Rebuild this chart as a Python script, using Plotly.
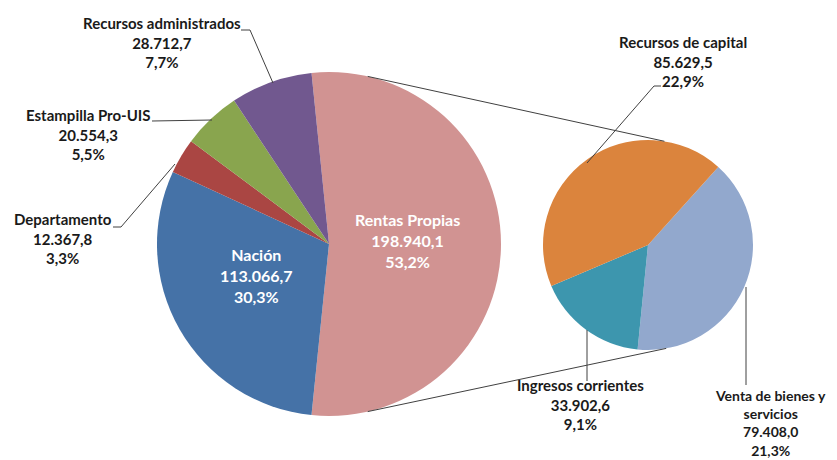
import math
import plotly.graph_objects as go

# Datos (millones de pesos)
fuentes = ["Rentas Propias", "Nación", "Departamento", "Estampilla Pro-UIS", "Recursos administrados"]
valores = [198940.1, 113066.7, 12367.8, 20554.3, 28712.7]
colores = ["#D19392", "#4572A7", "#AA4643", "#89A54E", "#71588F"]

rentas = ["Venta de bienes y servicios", "Ingresos corrientes", "Recursos de capital"]
valores_rentas = [79408.0, 33902.6, 85629.5]
colores_rentas = ["#92A8CD", "#3D96AE", "#DB843D"]

# la página deja 8 px de margen; la figura se ajusta a ese desplazamiento
OFF = 8
W, H = 837 - OFF, 460 - OFF
total = sum(valores)


def fmt_num(v):
    s = f"{v:,.1f}"
    return s.replace(",", "X").replace(".", ",").replace("X", ".")


def fmt_pct(v):
    return f"{100 * v / total:.1f}".replace(".", ",") + "%"


def px(x):
    return (x - OFF) / W


def py(y):
    return 1 - (y - OFF) / H


# geometría de las tortas (píxeles de pantalla)
c1, r1 = (329, 244), 172
c2, r2 = (648, 245), 105

inicio = 90 - 180 * valores[0] / total  # Rentas Propias centrada a la derecha

fig = go.Figure()
fig.add_trace(go.Pie(
    labels=fuentes, values=valores, sort=False, direction="clockwise",
    rotation=inicio, marker=dict(colors=colores), textinfo="none",
    hoverinfo="label+value+percent",
    domain=dict(x=[px(c1[0] - r1), px(c1[0] + r1)], y=[py(c1[1] + r1), py(c1[1] - r1)])
))
fig.add_trace(go.Pie(
    labels=rentas, values=valores_rentas, sort=False, direction="clockwise",
    rotation=42, marker=dict(colors=colores_rentas), textinfo="none",
    hoverinfo="label+value",
    domain=dict(x=[px(c2[0] - r2), px(c2[0] + r2)], y=[py(c2[1] + r2), py(c2[1] - r2)])
))


def punto(c, r, ang):
    a = math.radians(ang)
    return c[0] + r * math.sin(a), c[1] - r * math.cos(a)


def linea(xa, ya, xb, yb):
    fig.add_shape(type="line", xref="paper", yref="paper",
                  x0=px(xa), y0=py(ya), x1=px(xb), y1=py(yb),
                  line=dict(color="#404040", width=1))


# líneas de conexión entre las dos tortas
for a1, a2 in [(13, 9), (167, 170)]:
    x0, y0 = punto(c1, r1, a1)
    x1, y1 = punto(c2, r2, a2)
    linea(x0, y0, x1, y1)

# líneas guía de etiquetas
guias = [
    [(241, 30), (250, 30), (273, 83)],
    [(152, 121), (212, 120)],
    [(113, 227), (121, 227), (175, 164)],
    [(654, 86), (661, 86)],
    [(654, 86), (587, 163)],
    [(587, 330), (587, 381)],
    [(746, 287), (746, 385)],
]
for g in guias:
    for (xa, ya), (xb, yb) in zip(g[:-1], g[1:]):
        linea(xa, ya, xb, yb)

# etiquetas
pos_main = [(407, 240, "white", 16), (257, 275, "white", 16), (63, 238, "#1a1a1a", 15),
            (88, 135, "#1a1a1a", 15), (162, 43, "#1a1a1a", 15)]
for nombre, v, (x, y, col, tam) in zip(fuentes, valores, pos_main):
    fig.add_annotation(x=px(x), y=py(y), xref="paper", yref="paper", showarrow=False,
                       xanchor="center", yanchor="middle",
                       text=f"<b>{nombre}<br>{fmt_num(v)}<br>{fmt_pct(v)}</b>",
                       font=dict(color=col, size=tam), align="center")

nombres_sec = ["Venta de bienes y<br>servicios", "Ingresos corrientes", "Recursos de capital"]
pos_sec = [(770, 423, 14), (580, 404, 15), (683, 61, 15)]
for nombre, v, (x, y, tam) in zip(nombres_sec, valores_rentas, pos_sec):
    fig.add_annotation(x=px(x), y=py(y), xref="paper", yref="paper", showarrow=False,
                       xanchor="center", yanchor="middle",
                       text=f"<b>{nombre}<br>{fmt_num(v)}<br>{fmt_pct(v)}</b>",
                       font=dict(color="#1a1a1a", size=tam), align="center")

fig.update_layout(
    width=W, height=H, showlegend=False,
    margin=dict(l=0, r=0, t=0, b=0),
    paper_bgcolor="white", plot_bgcolor="white",
    font=dict(family="Lato, sans-serif"),
)

fig.write_html("out.html")
